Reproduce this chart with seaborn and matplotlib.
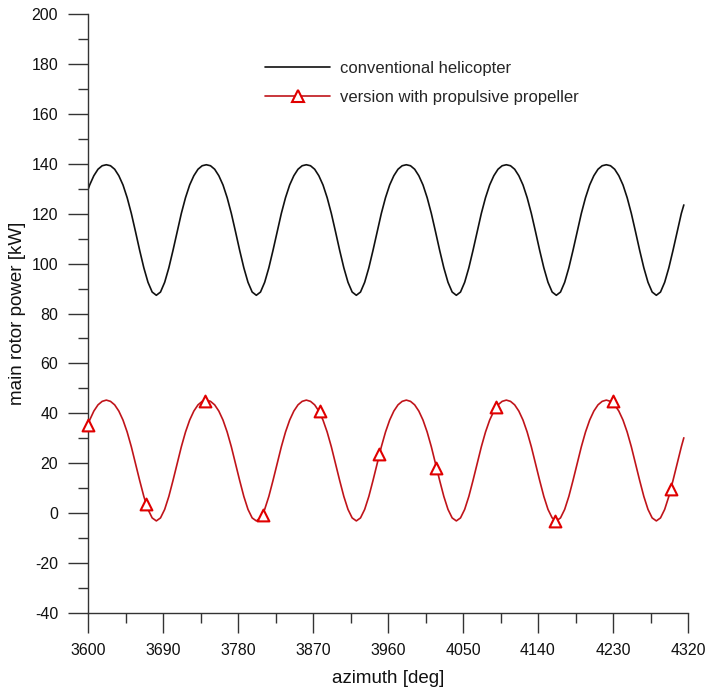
import matplotlib
matplotlib.use("Agg")
import matplotlib.pyplot as plt
import seaborn as sns
import pandas as pd
from matplotlib.lines import Line2D
from matplotlib.ticker import MultipleLocator

# ---- data ----
azimuth = [3600] + list(range(3602, 4313, 5)) + [4315]

conventional = [
    129.6, 131.5, 135.2, 137.8, 139.2,
    139.6, 139.2, 137.8, 135.2, 131.5, 126.4, 120.1, 112.8, 105.3, 98.3, 92.5, 88.6,
    87.3, 88.6, 92.5, 98.3, 105.3, 112.8, 120.1, 126.4, 131.5, 135.2, 137.8, 139.2,
    139.6, 139.2, 137.8, 135.2, 131.5, 126.4, 120.1, 112.8, 105.3, 98.3, 92.5, 88.6,
    87.3, 88.6, 92.5, 98.3, 105.3, 112.8, 120.1, 126.4, 131.5, 135.2, 137.8, 139.2,
    139.6, 139.2, 137.8, 135.2, 131.5, 126.4, 120.1, 112.8, 105.3, 98.3, 92.5, 88.6,
    87.3, 88.6, 92.5, 98.3, 105.3, 112.8, 120.1, 126.4, 131.5, 135.2, 137.8, 139.2,
    139.6, 139.2, 137.8, 135.2, 131.5, 126.4, 120.1, 112.8, 105.3, 98.3, 92.5, 88.6,
    87.3, 88.6, 92.5, 98.3, 105.3, 112.8, 120.1, 126.4, 131.5, 135.2, 137.8, 139.2,
    139.6, 139.2, 137.8, 135.2, 131.5, 126.4, 120.1, 112.8, 105.3, 98.3, 92.5, 88.6,
    87.3, 88.6, 92.5, 98.3, 105.3, 112.8, 120.1, 126.4, 131.5, 135.2, 137.8, 139.2,
    139.6, 139.2, 137.8, 135.2, 131.5, 126.4, 120.1, 112.8, 105.3, 98.3, 92.5, 88.6,
    87.3, 88.6, 92.5, 98.3, 105.3, 112.8, 120.1, 123.5,
]

propeller = [
    35.5, 37.3, 40.9, 43.4, 44.8,
    45.3, 44.8, 43.4, 40.9, 37.3, 32.5, 26.6, 19.9, 13.1, 6.7, 1.5, -1.9,
    -3.1, -1.9, 1.5, 6.7, 13.1, 19.9, 26.6, 32.5, 37.3, 40.9, 43.4, 44.8,
    45.3, 44.8, 43.4, 40.9, 37.3, 32.5, 26.6, 19.9, 13.1, 6.7, 1.5, -1.9,
    -3.1, -1.9, 1.5, 6.7, 13.1, 19.9, 26.6, 32.5, 37.3, 40.9, 43.4, 44.8,
    45.3, 44.8, 43.4, 40.9, 37.3, 32.5, 26.6, 19.9, 13.1, 6.7, 1.5, -1.9,
    -3.1, -1.9, 1.5, 6.7, 13.1, 19.9, 26.6, 32.5, 37.3, 40.9, 43.4, 44.8,
    45.3, 44.8, 43.4, 40.9, 37.3, 32.5, 26.6, 19.9, 13.1, 6.7, 1.5, -1.9,
    -3.1, -1.9, 1.5, 6.7, 13.1, 19.9, 26.6, 32.5, 37.3, 40.9, 43.4, 44.8,
    45.3, 44.8, 43.4, 40.9, 37.3, 32.5, 26.6, 19.9, 13.1, 6.7, 1.5, -1.9,
    -3.1, -1.9, 1.5, 6.7, 13.1, 19.9, 26.6, 32.5, 37.3, 40.9, 43.4, 44.8,
    45.3, 44.8, 43.4, 40.9, 37.3, 32.5, 26.6, 19.9, 13.1, 6.7, 1.5, -1.9,
    -3.1, -1.9, 1.5, 6.7, 13.1, 19.9, 26.6, 30.2,
]

marker_azimuth = [3600, 3670, 3740, 3810, 3878, 3949, 4018, 4090, 4160, 4230, 4300]
marker_power = [35.3, 3.5, 44.8, -0.7, 41.1, 23.9, 18.1, 42.7, -3.2, 44.8, 9.6]

labels = ["conventional helicopter", "version with propulsive propeller"]
x_ticks = [3600, 3690, 3780, 3870, 3960, 4050, 4140, 4230, 4320]
y_ticks = [-40, -20, 0, 20, 40, 60, 80, 100, 120, 140, 160, 180, 200]

# ---- style ----
sns.set_style("ticks")
plt.rcParams["font.family"] = ["Liberation Sans", "DejaVu Sans"]
plt.rcParams["axes.unicode_minus"] = False

BLACK = "#111111"
RED_LINE = "#c0141a"
RED_MARK = "#e00000"
AXIS = "#333333"

fig = plt.figure(figsize=(7.08, 6.95), dpi=100)
ax = fig.add_axes([88 / 708, 1 - 613 / 695, 600 / 708, 599 / 695])

df1 = pd.DataFrame({"azimuth": azimuth, "power": conventional})
df2 = pd.DataFrame({"azimuth": azimuth, "power": propeller})
dfm = pd.DataFrame({"azimuth": marker_azimuth, "power": marker_power})

sns.lineplot(data=df1, x="azimuth", y="power", ax=ax, color=BLACK, lw=1.2,
             sort=False, estimator=None, legend=False)
sns.lineplot(data=df2, x="azimuth", y="power", ax=ax, color=RED_LINE, lw=1.2,
             sort=False, estimator=None, legend=False)
sns.scatterplot(data=dfm, x="azimuth", y="power", ax=ax, marker="^", s=72,
                facecolor="white", edgecolor=RED_MARK, linewidth=1.5,
                zorder=5, legend=False, clip_on=False)

ax.set_xlim(3600, 4320)
ax.set_ylim(-40, 200)
ax.set_xticks(x_ticks)
ax.set_yticks(y_ticks)
ax.xaxis.set_minor_locator(MultipleLocator(45))
ax.yaxis.set_minor_locator(MultipleLocator(10))

for side in ["top", "right"]:
    ax.spines[side].set_visible(False)
for side in ["left", "bottom"]:
    ax.spines[side].set_color(AXIS)
    ax.spines[side].set_linewidth(1.0)

ax.tick_params(axis="both", which="major", length=14.5, width=1.0, color=AXIS,
               direction="out", labelsize=11.5, pad=7, labelcolor="#111111")
ax.tick_params(axis="both", which="minor", length=7.5, width=1.0, color=AXIS,
               direction="out")

ax.set_xlabel("azimuth [deg]", fontsize=13.5, color="#111111", labelpad=9)
ax.set_ylabel("main rotor power [kW]", fontsize=13.5, color="#111111", labelpad=4)

h1 = Line2D([], [], color=BLACK, lw=1.2)
h2 = Line2D([], [], color=RED_LINE, lw=1.2, marker="^", markersize=9,
            markerfacecolor="white", markeredgecolor=RED_MARK, markeredgewidth=1.5)
fig.legend([h1, h2], labels, loc="upper left",
           bbox_to_anchor=(265 / 708, 1 - 61 / 695), frameon=False,
           fontsize=12, handlelength=3.9, handletextpad=0.6,
           labelspacing=0.85, borderpad=0, borderaxespad=0)

fig.savefig("out.png", dpi=100)
